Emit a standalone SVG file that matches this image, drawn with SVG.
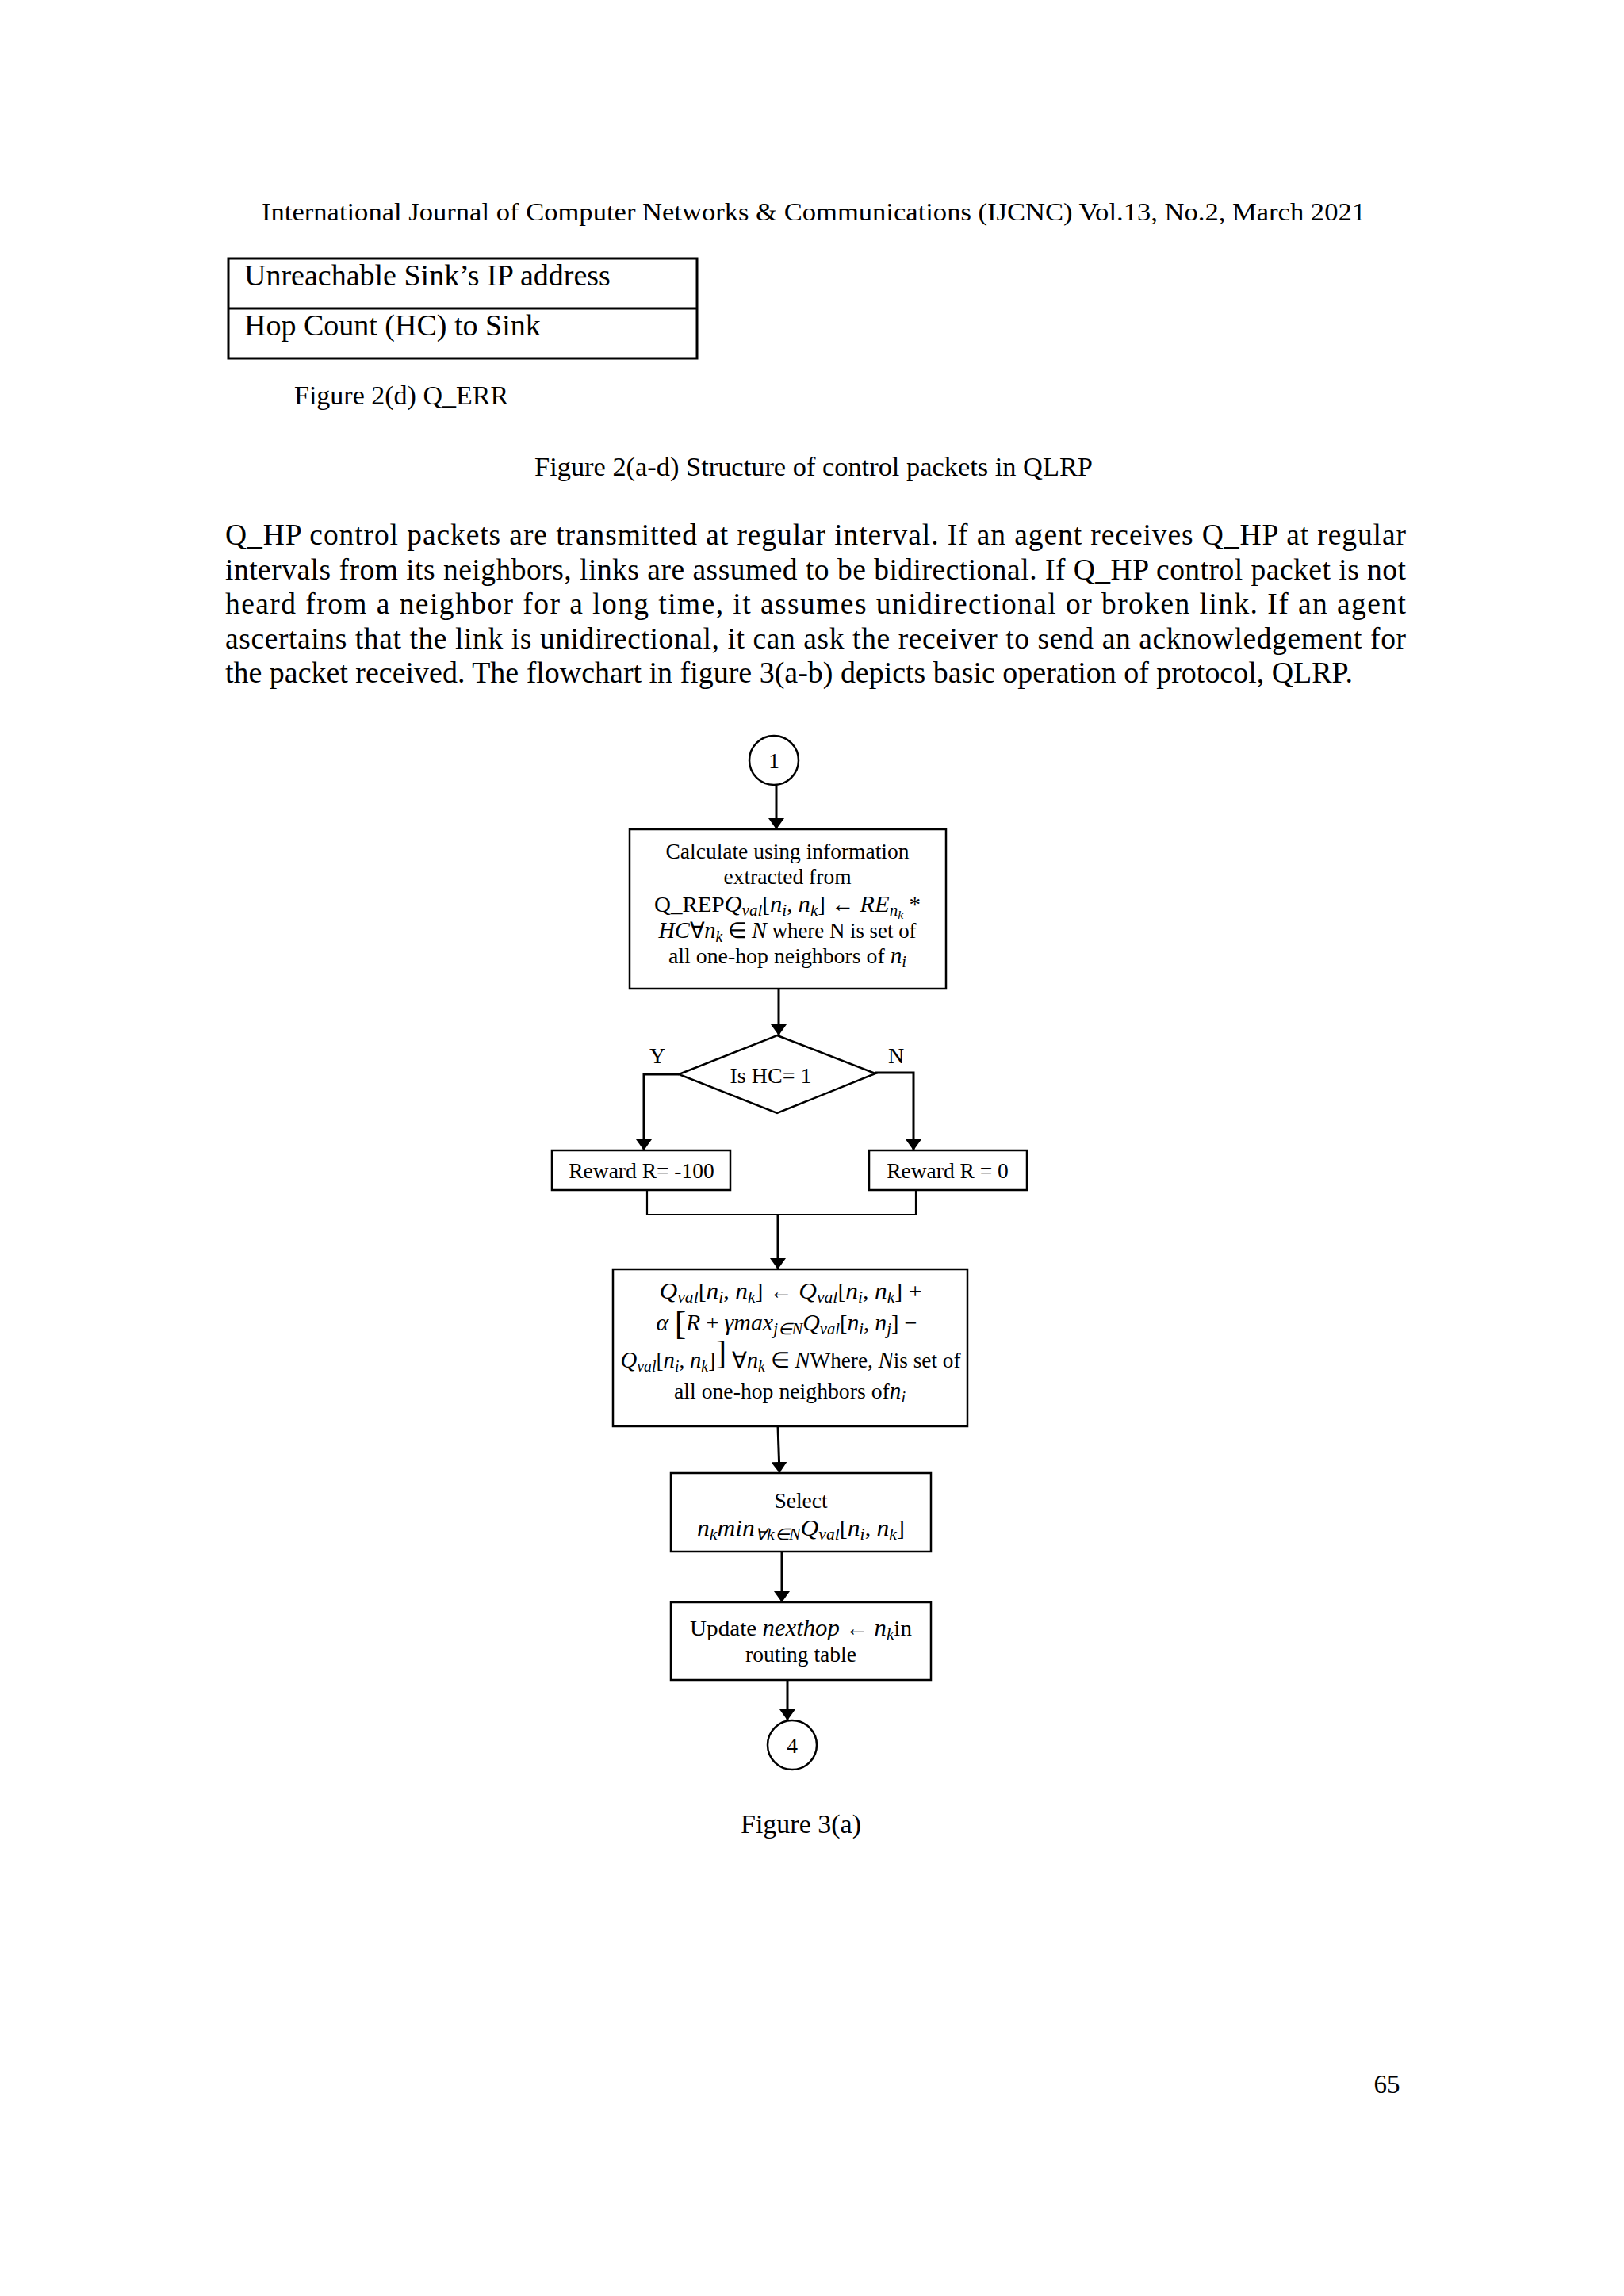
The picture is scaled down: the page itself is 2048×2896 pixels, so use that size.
<svg xmlns="http://www.w3.org/2000/svg" width="2048" height="2896" viewBox="0 0 2048 2896">
<style>
text{font-family:"Liberation Serif","Times New Roman",serif;fill:#000}
.hdr{font-size:32px}
.tbl{font-size:38px}
.cap{font-size:34px}
.par{font-size:37.5px}
.fc{font-size:27.5px}
.i{font-style:italic;font-size:29px}
.sub{font-size:20px}
.ss{font-size:15px}
.box{fill:#fff;stroke:#000;stroke-width:2.5}
.con{fill:none;stroke:#000;stroke-width:3}
.thin{fill:none;stroke:#000;stroke-width:2.2}
</style>
<defs>
<marker id="ah" markerUnits="userSpaceOnUse" markerWidth="14" markerHeight="20" viewBox="0 0 14 20" refX="14" refY="10" orient="auto">
<path d="M0,0 L14,10 L0,20 Z" fill="#000"/>
</marker>
</defs>
<rect width="2048" height="2896" fill="#fff"/>

<g id="page-text">
<text class="hdr" x="330" y="278" textLength="1392" lengthAdjust="spacingAndGlyphs">International Journal of Computer Networks &amp; Communications (IJCNC) Vol.13, No.2, March 2021</text>
<text class="cap" x="371" y="510">Figure 2(d) Q_ERR</text>
<text class="cap" x="674" y="600" textLength="704" lengthAdjust="spacingAndGlyphs">Figure 2(a-d) Structure of control packets in QLRP</text>
<text class="par" x="284" y="687" textLength="1489" lengthAdjust="spacing">Q_HP control packets are transmitted at regular interval. If an agent receives Q_HP at regular</text>
<text class="par" x="284" y="731" textLength="1489" lengthAdjust="spacing">intervals from its neighbors, links are assumed to be bidirectional. If Q_HP control packet is not</text>
<text class="par" x="284" y="774" textLength="1489" lengthAdjust="spacing">heard from a neighbor for a long time, it assumes unidirectional or broken link. If an agent</text>
<text class="par" x="284" y="818" textLength="1489" lengthAdjust="spacing">ascertains that the link is unidirectional, it can ask the receiver to send an acknowledgement for</text>
<text class="par" x="284" y="861" textLength="1422" lengthAdjust="spacingAndGlyphs">the packet received. The flowchart in figure 3(a-b) depicts basic operation of protocol, QLRP.</text>
<text class="cap" x="1010" y="2312" text-anchor="middle">Figure 3(a)</text>
<text class="cap" x="1749" y="2640" text-anchor="middle" style="font-size:33px">65</text>
</g>

<g id="qerr-table">
<rect x="288" y="326" width="591" height="126" fill="none" stroke="#000" stroke-width="3"/>
<line x1="288" y1="389" x2="879" y2="389" stroke="#000" stroke-width="3"/>
<text class="tbl" x="308" y="360">Unreachable Sink’s IP address</text>
<text class="tbl" x="308" y="423">Hop Count (HC) to Sink</text>
</g>

<g id="connectors">
<line class="con" x1="979" y1="990" x2="979" y2="1046" marker-end="url(#ah)"/>
<line class="con" x1="982" y1="1248" x2="982" y2="1306" marker-end="url(#ah)"/>
<polyline class="con" points="856,1355 812,1355 812,1451" marker-end="url(#ah)"/>
<polyline class="con" points="1104,1353 1152,1353 1152,1451" marker-end="url(#ah)"/>
<polyline class="thin" points="816,1501 816,1532 1155,1532 1155,1501"/>
<line class="con" x1="981" y1="1532" x2="981" y2="1601" marker-end="url(#ah)"/>
<line class="con" x1="981" y1="1799" x2="983" y2="1858" marker-end="url(#ah)"/>
<line class="con" x1="986" y1="1957" x2="986" y2="2021" marker-end="url(#ah)"/>
<line class="con" x1="993" y1="2119" x2="993" y2="2170" marker-end="url(#ah)"/>
</g>

<g id="start-1">
<circle cx="976" cy="959" r="31" fill="#fff" stroke="#000" stroke-width="2.5"/>
<text class="fc" x="976" y="969" text-anchor="middle">1</text>
</g>

<g id="calc-box">
<rect class="box" x="794" y="1046" width="399" height="201"/>
<text class="fc" x="993" y="1083" text-anchor="middle">Calculate using information</text>
<text class="fc" x="993" y="1115" text-anchor="middle">extracted from</text>
<text class="fc" x="993" y="1150" text-anchor="middle" textLength="336" lengthAdjust="spacingAndGlyphs">Q_REP<tspan class="i">Q</tspan><tspan class="i sub" dy="5">val</tspan><tspan dy="-5">[</tspan><tspan class="i">n</tspan><tspan class="i sub" dy="5">i</tspan><tspan dy="-5">, </tspan><tspan class="i">n</tspan><tspan class="i sub" dy="5">k</tspan><tspan dy="-5">] ←  </tspan><tspan class="i">RE</tspan><tspan class="i sub" dy="5">n</tspan><tspan class="i ss" dy="4">k</tspan><tspan dy="-9"> *</tspan></text>
<text class="fc" x="993" y="1183" text-anchor="middle" textLength="325" lengthAdjust="spacingAndGlyphs"><tspan class="i">HC</tspan>∀<tspan class="i">n</tspan><tspan class="i sub" dy="5">k</tspan><tspan dy="-5"> ∈ </tspan><tspan class="i">N</tspan> where N is set of</text>
<text class="fc" x="993" y="1215" text-anchor="middle" textLength="300" lengthAdjust="spacingAndGlyphs">all one-hop neighbors of <tspan class="i">n</tspan><tspan class="i sub" dy="5">i</tspan></text>
</g>

<g id="decision-hc">
<polygon points="980,1306 1104,1354 980,1404 856,1355" fill="#fff" stroke="#000" stroke-width="2.5"/>
<text class="fc" x="972" y="1366" text-anchor="middle" style="font-size:28px">Is HC= 1</text>
<text class="fc" x="829" y="1341" text-anchor="middle" style="font-size:28px">Y</text>
<text class="fc" x="1130" y="1341" text-anchor="middle" style="font-size:28px">N</text>
</g>

<g id="reward-neg">
<rect class="box" x="696" y="1451" width="225" height="50"/>
<text class="fc" x="809" y="1486" text-anchor="middle">Reward R= -100</text>
</g>

<g id="reward-zero">
<rect class="box" x="1096" y="1451" width="199" height="50"/>
<text class="fc" x="1195" y="1486" text-anchor="middle">Reward R = 0</text>
</g>

<g id="update-q">
<rect class="box" x="773" y="1601" width="447" height="198"/>
<text class="fc" x="997" y="1638" text-anchor="middle" textLength="331" lengthAdjust="spacingAndGlyphs"><tspan class="i">Q</tspan><tspan class="i sub" dy="5">val</tspan><tspan dy="-5">[</tspan><tspan class="i">n</tspan><tspan class="i sub" dy="5">i</tspan><tspan dy="-5">, </tspan><tspan class="i">n</tspan><tspan class="i sub" dy="5">k</tspan><tspan dy="-5">] ←  </tspan><tspan class="i">Q</tspan><tspan class="i sub" dy="5">val</tspan><tspan dy="-5">[</tspan><tspan class="i">n</tspan><tspan class="i sub" dy="5">i</tspan><tspan dy="-5">, </tspan><tspan class="i">n</tspan><tspan class="i sub" dy="5">k</tspan><tspan dy="-5">] +</tspan></text>
<text class="fc" x="992" y="1678" text-anchor="middle" textLength="329" lengthAdjust="spacingAndGlyphs"><tspan class="i">α </tspan><tspan style="font-size:42px" dy="5">[</tspan><tspan class="i" dy="-5">R</tspan> + <tspan class="i">γmax</tspan><tspan class="i sub" dy="5">j∈N</tspan><tspan class="i" dy="-5">Q</tspan><tspan class="i sub" dy="5">val</tspan><tspan dy="-5">[</tspan><tspan class="i">n</tspan><tspan class="i sub" dy="5">i</tspan><tspan dy="-5">, </tspan><tspan class="i">n</tspan><tspan class="i sub" dy="5">j</tspan><tspan dy="-5">] −</tspan></text>
<text class="fc" x="997" y="1725" text-anchor="middle" textLength="429" lengthAdjust="spacingAndGlyphs"><tspan class="i">Q</tspan><tspan class="i sub" dy="5">val</tspan><tspan dy="-5">[</tspan><tspan class="i">n</tspan><tspan class="i sub" dy="5">i</tspan><tspan dy="-5">, </tspan><tspan class="i">n</tspan><tspan class="i sub" dy="5">k</tspan><tspan dy="-5">]</tspan><tspan style="font-size:42px" dy="-5">]</tspan><tspan dy="5"> ∀</tspan><tspan class="i">n</tspan><tspan class="i sub" dy="5">k</tspan><tspan dy="-5"> ∈ </tspan><tspan class="i">N</tspan>Where, <tspan class="i">N</tspan>is set of</text>
<text class="fc" x="996" y="1764" text-anchor="middle" textLength="292" lengthAdjust="spacingAndGlyphs">all one-hop neighbors of<tspan class="i">n</tspan><tspan class="i sub" dy="5">i</tspan></text>
</g>

<g id="select-box">
<rect class="box" x="846" y="1858" width="328" height="99"/>
<text class="fc" x="1010" y="1902" text-anchor="middle">Select</text>
<text class="fc" x="1010" y="1937" text-anchor="middle" textLength="262" lengthAdjust="spacingAndGlyphs"><tspan class="i">n</tspan><tspan class="i sub" dy="5">k</tspan><tspan class="i" dy="-5">min</tspan><tspan class="i sub" dy="5">∀k∈N</tspan><tspan class="i" dy="-5">Q</tspan><tspan class="i sub" dy="5">val</tspan><tspan dy="-5">[</tspan><tspan class="i">n</tspan><tspan class="i sub" dy="5">i</tspan><tspan dy="-5">, </tspan><tspan class="i">n</tspan><tspan class="i sub" dy="5">k</tspan><tspan dy="-5">]</tspan></text>
</g>

<g id="nexthop-box">
<rect class="box" x="846" y="2021" width="328" height="98"/>
<text class="fc" x="1010" y="2063" text-anchor="middle" textLength="280" lengthAdjust="spacingAndGlyphs">Update <tspan class="i">nexthop</tspan> ← <tspan class="i">n</tspan><tspan class="i sub" dy="5">k</tspan><tspan dy="-5">in</tspan></text>
<text class="fc" x="1010" y="2096" text-anchor="middle">routing table</text>
</g>

<g id="end-4">
<circle cx="999" cy="2201" r="31" fill="#fff" stroke="#000" stroke-width="2.5"/>
<text class="fc" x="999" y="2211" text-anchor="middle">4</text>
</g>
</svg>
